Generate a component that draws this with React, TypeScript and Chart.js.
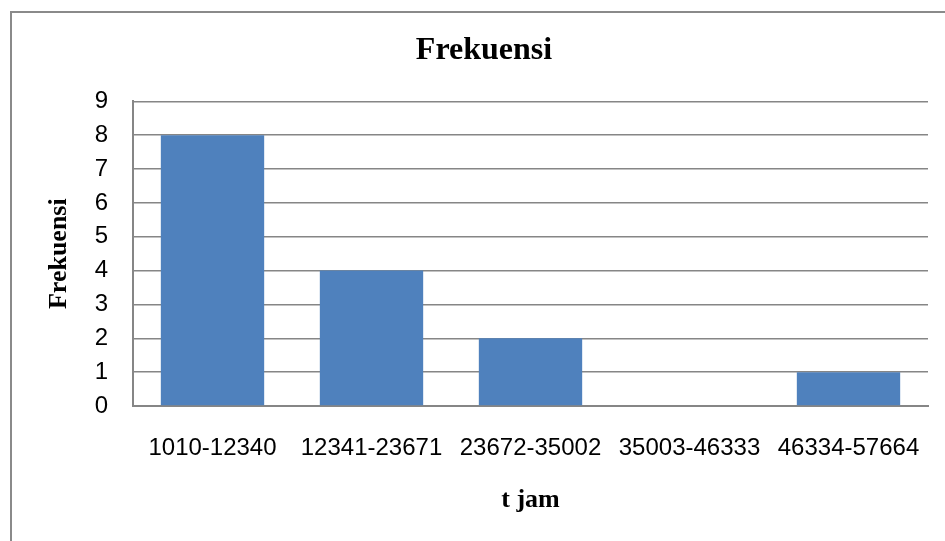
import React, { useEffect, useRef } from "react";
import { Chart, registerables } from "chart.js";

Chart.register(...registerables);

const categories = ["1010-12340", "12341-23671", "23672-35002", "35003-46333", "46334-57664"];
const frekuensi = [8, 4, 2, 0, 1];
const yMin = 0;
const yMax = 9;
const yStep = 1;

const chartTitle = "Frekuensi";
const xTitle = "t jam";
const yTitle = "Frekuensi";

const tickFamily = "'Liberation Sans Narrow', 'Arial Narrow', 'Liberation Sans', Arial, sans-serif";
const serifFamily = "'Liberation Serif', 'Times New Roman', Times, serif";

export default function App() {
  const ref = useRef<HTMLCanvasElement | null>(null);

  useEffect(() => {
    if (!ref.current) return;
    const chart = new Chart(ref.current, {
      type: "bar",
      data: {
        labels: categories,
        datasets: [
          {
            label: "Frekuensi",
            data: frekuensi,
            backgroundColor: "#4F81BD",
            borderWidth: 0,
            barPercentage: 0.65,
            categoryPercentage: 1,
          },
        ],
      },
      options: {
        responsive: false,
        animation: false,
        layout: { padding: { left: 40, right: 40, top: 0, bottom: 0 } },
        plugins: {
          legend: { display: false },
          tooltip: { enabled: false },
          title: {
            display: true,
            text: chartTitle,
            color: "#000",
            font: { family: serifFamily, size: 32, weight: "bold", lineHeight: 1.2 },
            padding: { top: 32, bottom: 31 },
          },
        },
        scales: {
          x: {
            grid: { display: false, drawTicks: false },
            border: { display: true, color: "#868686", width: 2 },
            ticks: {
              color: "#000",
              font: { family: tickFamily, size: 24, lineHeight: 1.2 },
              padding: 28,
              maxRotation: 0,
              autoSkip: false,
            },
            title: {
              display: true,
              text: xTitle,
              color: "#000",
              font: { family: serifFamily, size: 26, weight: "bold", lineHeight: 1.2 },
              padding: { top: 0, bottom: 25 },
            },
            afterFit: (scale: any) => {
              scale.height = 135;
            },
          },
          y: {
            min: yMin,
            max: yMax,
            grid: { display: true, color: "#868686", lineWidth: 1.5, drawTicks: false },
            border: { display: true, color: "#868686", width: 2 },
            ticks: {
              stepSize: yStep,
              autoSkip: false,
              color: "#000",
              font: { family: tickFamily, size: 24, lineHeight: 1.2 },
              padding: 25,
            },
            title: {
              display: true,
              text: yTitle,
              color: "#000",
              font: { family: serifFamily, size: 26, weight: "bold", lineHeight: 1.2 },
              padding: { top: 4, bottom: 0 },
            },
            afterFit: (scale: any) => {
              scale.width = 93;
            },
          },
        },
      },
    });
    return () => chart.destroy();
  }, []);

  return (
    <div
      style={{
        position: "fixed",
        left: 0,
        top: 0,
        width: 945,
        height: 541,
        overflow: "hidden",
        background: "#fff",
      }}
    >
      <div
        style={{
          position: "absolute",
          left: 10,
          top: 11,
          width: 948,
          height: 600,
          border: "2px solid #8a8a8a",
          boxSizing: "border-box",
        }}
      />
      <canvas
        ref={ref}
        width={968}
        height={541}
        style={{ position: "absolute", left: 0, top: 0, width: 968, height: 541 }}
      />
    </div>
  );
}
